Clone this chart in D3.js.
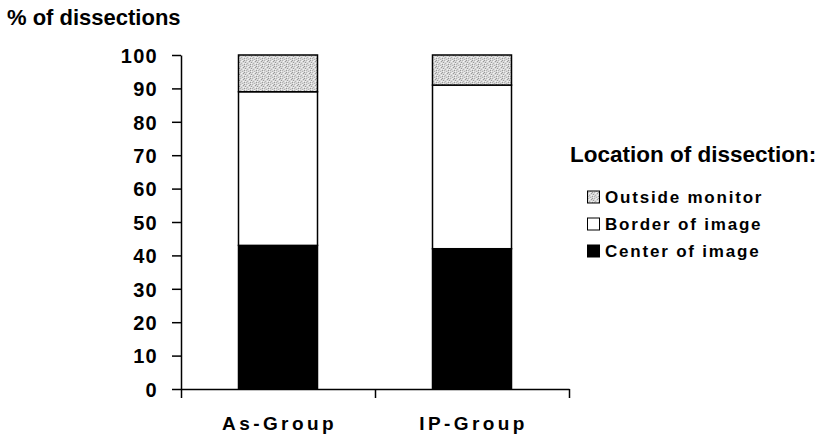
<!DOCTYPE html>
<html>
<head>
<meta charset="utf-8">
<script src="https://cdn.jsdelivr.net/npm/d3@7"></script>
<style>
  html, body { margin: 0; padding: 0; background: #fff; }
  svg { display: block; }
  text { font-family: "Liberation Sans", Arial, Helvetica, sans-serif; font-weight: bold; fill: #000; }
</style>
</head>
<body>
<svg id="chart" width="820" height="438"></svg>
<script>
const categories = ["As-Group", "IP-Group"];
const seriesNames = ["Center of image", "Border of image", "Outside monitor"];
const centerValues = [43, 42];
const borderValues = [46, 49];
const outsideValues = [11, 9];
const yTicks = [0, 10, 20, 30, 40, 50, 60, 70, 80, 90, 100];
const yTitle = "% of dissections";
const legendTitle = "Location of dissection:";
const legendOrder = ["Outside monitor", "Border of image", "Center of image"];

const svg = d3.select("#chart");
const defs = svg.append("defs");
const pat = defs.append("pattern").attr("id", "stipple").attr("patternUnits", "userSpaceOnUse")
  .attr("width", 6).attr("height", 6);
pat.append("rect").attr("width", 6).attr("height", 6).attr("fill", "#d8d8d8");
[[0,0],[3,1],[1,3],[4,4],[2,5],[5,2],[0,4],[4,0]].forEach(([x, y], i) => {
  pat.append("rect").attr("x", x).attr("y", y).attr("width", 1).attr("height", 1)
    .attr("fill", i % 2 ? "#9a9a9a" : "#b4b4b4");
});
[[1,1],[3,3],[5,5],[2,0],[5,3]].forEach(([x, y]) => {
  pat.append("rect").attr("x", x).attr("y", y).attr("width", 1).attr("height", 1).attr("fill", "#f2f2f2");
});

const fills = {
  "Center of image": "#000",
  "Border of image": "#fff",
  "Outside monitor": "url(#stipple)"
};

const data = categories.map((c, i) => ({
  cat: c,
  "Center of image": centerValues[i],
  "Border of image": borderValues[i],
  "Outside monitor": outsideValues[i]
}));

const y = d3.scaleLinear().domain([0, 100]).range([389, 55]);
const x = d3.scaleBand().domain(categories).range([181, 569]).padding(0);
const xb = d3.scaleLinear().domain([0, categories.length]).range([181, 569]);
const barW = 79;

const stack = d3.stack().keys(seriesNames)(data);

// bars
const gBars = svg.append("g");
stack.forEach(layer => {
  gBars.selectAll(null).data(layer).enter().append("rect")
    .attr("x", d => x(d.data.cat) + x.bandwidth() / 2 - barW / 2)
    .attr("width", barW)
    .attr("y", d => y(d[1]))
    .attr("height", d => y(d[0]) - y(d[1]))
    .attr("fill", fills[layer.key])
    .attr("stroke", "#000")
    .attr("stroke-width", 1.5);
});

// y axis
const yAxis = svg.append("g").attr("transform", "translate(181,0)")
  .call(d3.axisLeft(y).tickValues(yTicks).tickSize(9).tickSizeOuter(0).tickPadding(14));
yAxis.select(".domain").attr("stroke", "#000").attr("stroke-width", 1.5);
yAxis.selectAll(".tick line").attr("stroke", "#000").attr("stroke-width", 1.5);
yAxis.selectAll(".tick text")
  .style("font-size", "20px").style("letter-spacing", "1.3px")
  .style("font-family", "'Liberation Sans', Arial, sans-serif").style("font-weight", "bold")
  .attr("dy", "0.36em");

// x axis line with boundary ticks
const xAxis = svg.append("g").attr("transform", "translate(0,389)")
  .call(d3.axisBottom(xb).tickValues(d3.range(categories.length + 1)).tickFormat("").tickSize(9).tickSizeOuter(0));
xAxis.select(".domain").attr("stroke", "#000").attr("stroke-width", 1.5);
xAxis.selectAll(".tick line").attr("stroke", "#000").attr("stroke-width", 1.5);

// category labels
const xLab = svg.append("g").attr("transform", "translate(1.5,389)")
  .call(d3.axisBottom(x).tickSize(0).tickPadding(28));
xLab.select(".domain").remove();
xLab.selectAll(".tick text")
  .style("font-size", "19px").style("letter-spacing", "3.4px")
  .style("font-family", "'Liberation Sans', Arial, sans-serif").style("font-weight", "bold");

// y title
svg.append("text").attr("x", 7).attr("y", 25).style("font-size", "22px").text(yTitle);

// legend
svg.append("text").attr("x", 570).attr("y", 162).style("font-size", "22.5px").text(legendTitle);
const leg = svg.append("g");
legendOrder.forEach((name, i) => {
  const by = 191 + i * 27;
  leg.append("rect").attr("x", 587.5).attr("y", by).attr("width", 12).attr("height", 12)
    .attr("fill", fills[name]).attr("stroke", "#000").attr("stroke-width", 1);
  leg.append("text").attr("x", 605).attr("y", by + 12)
    .style("font-size", "17px").style("letter-spacing", "1.8px").text(name);
});
</script>
</body>
</html>
